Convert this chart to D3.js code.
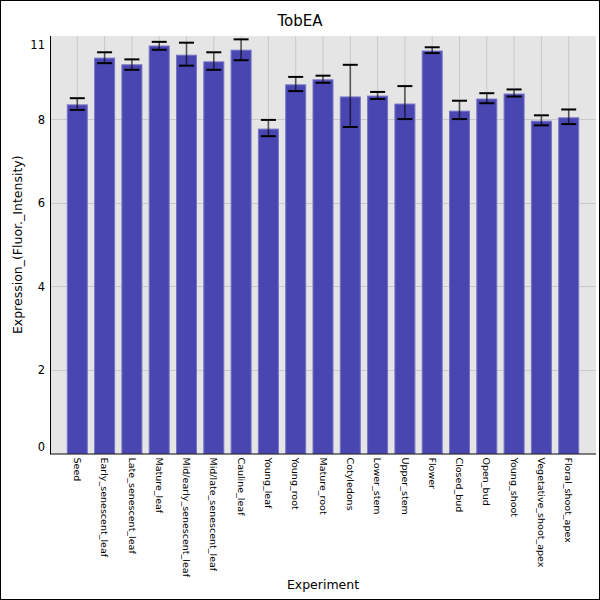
<!DOCTYPE html>
<html>
<head>
<meta charset="utf-8">
<script src="https://cdnjs.cloudflare.com/ajax/libs/d3/7.8.5/d3.min.js"></script>
<style>
  body { margin: 0; background: #fff; }
  svg { display: block; font-family: "DejaVu Sans", sans-serif; }
</style>
</head>
<body>
<svg id="chart" width="600" height="600"></svg>
<script>
'use strict'

// data
const experiments = ['Seed', 'Early_senescent_leaf', 'Late_senescent_leaf', 'Mature_leaf',
  'Mid/early_senescent_leaf', 'Mid/late_senescent_leaf', 'Cauline_leaf', 'Young_leaf',
  'Young_root', 'Mature_root', 'Cotyledons', 'Lower_stem', 'Upper_stem', 'Flower',
  'Closed_bud', 'Open_bud', 'Young_shoot', 'Vegetative_shoot_apex', 'Floral_shoot_apex']
const means = [8.35, 9.47, 9.31, 9.76, 9.54, 9.38, 9.66, 7.77, 8.83, 8.95,
  8.54, 8.56, 8.37, 9.64, 8.20, 8.49, 8.61, 7.96, 8.04]
const errLow = [8.23, 9.35, 9.19, 9.67, 9.29, 9.19, 9.42, 7.60, 8.68, 8.88,
  7.82, 8.49, 8.01, 9.59, 8.01, 8.39, 8.55, 7.86, 7.89]
const errHigh = [8.51, 9.61, 9.44, 9.86, 9.84, 9.61, 9.92, 7.99, 9.02, 9.05,
  9.31, 8.66, 8.80, 9.73, 8.45, 8.63, 8.72, 8.10, 8.24]
const yTicks = [0, 2, 4, 6, 8, 11]

const svg = d3.select('#chart')
const pLeft = 50, pRight = 596, pTop = 36, pBottom = 453.5

const x = d3.scaleLinear().domain([0, experiments.length + 1]).range([pLeft, pRight])
const y = d3.scaleLinear().domain([0, 10]).range([pBottom, pTop])

// outer frame
svg.append('rect')
  .attr('x', 0.5).attr('y', 0.5).attr('width', 599).attr('height', 599)
  .attr('fill', '#fff').attr('stroke', '#000')

svg.append('rect')
  .attr('x', pLeft).attr('y', pTop)
  .attr('width', pRight - pLeft).attr('height', pBottom - pTop)
  .attr('fill', '#e5e5e5')

// grid lines
svg.append('g')
  .selectAll('line')
  .data(yTicks.filter((t) => t > 0 && t < 10))
  .enter()
  .append('line')
  .attr('x1', pLeft).attr('x2', pRight)
  .attr('y1', (d) => Math.round(y(d)) + 0.5).attr('y2', (d) => Math.round(y(d)) + 0.5)
  .attr('stroke', '#c9c9c9')

svg.append('g')
  .selectAll('line')
  .data(experiments)
  .enter()
  .append('line')
  .attr('x1', (d, i) => x(i + 1)).attr('x2', (d, i) => x(i + 1))
  .attr('y1', pTop).attr('y2', pBottom)
  .attr('stroke', '#c9c9c9')

// bars
const barW = 20
svg.append('g')
  .selectAll('rect')
  .data(means)
  .enter()
  .append('rect')
  .attr('x', (d, i) => x(i + 1) - barW / 2)
  .attr('y', (d) => y(d))
  .attr('width', barW)
  .attr('height', (d) => pBottom - y(d))
  .attr('fill', '#4a46b1')
  .attr('stroke', '#7673c6')
  .attr('stroke-width', 1)

// error bars
const eb = svg.append('g')
eb.selectAll('line.stem')
  .data(means)
  .enter()
  .append('line')
  .attr('class', 'stem')
  .attr('x1', (d, i) => x(i + 1)).attr('x2', (d, i) => x(i + 1))
  .attr('y1', (d, i) => y(errLow[i])).attr('y2', (d, i) => y(errHigh[i]))
  .attr('stroke', '#000').attr('stroke-opacity', 0.6).attr('stroke-width', 1.6)

const capW = 15
;[errLow, errHigh].forEach((arr) => {
  eb.append('g')
    .selectAll('line')
    .data(arr)
    .enter()
    .append('line')
    .attr('x1', (d, i) => x(i + 1) - capW / 2).attr('x2', (d, i) => x(i + 1) + capW / 2)
    .attr('y1', (d) => y(d)).attr('y2', (d) => y(d))
    .attr('stroke', '#000').attr('stroke-width', 2)
})

// axis lines
svg.append('line')
  .attr('x1', pLeft + 0.5).attr('x2', pLeft + 0.5).attr('y1', pTop).attr('y2', pBottom + 0.5)
  .attr('stroke', '#000')
svg.append('line')
  .attr('x1', pLeft).attr('x2', pRight).attr('y1', pBottom + 0.5).attr('y2', pBottom + 0.5)
  .attr('stroke', '#000')

// y tick labels (clamped into the plot like the reference)
svg.append('g')
  .selectAll('text')
  .data(yTicks)
  .enter()
  .append('text')
  .attr('x', pLeft - 5)
  .attr('y', (d) => Math.min(Math.max(y(d), pTop + 9), pBottom - 6.5))
  .attr('dy', '0.35em')
  .attr('text-anchor', 'end')
  .style('font-size', '11.5px')
  .text((d) => d)

// x tick labels, rotated
svg.append('g')
  .selectAll('text')
  .data(experiments)
  .enter()
  .append('text')
  .attr('transform', (d, i) => `translate(${x(i + 1)},${pBottom + 4}) rotate(90)`)
  .attr('dy', '0.35em')
  .style('font-size', '9.5px')
  .text((d) => d)

// titles
svg.append('text')
  .attr('x', 300).attr('y', 26)
  .attr('text-anchor', 'middle')
  .style('font-size', '15px')
  .text('TobEA')

svg.append('text')
  .attr('x', (pLeft + pRight) / 2).attr('y', 589)
  .attr('text-anchor', 'middle')
  .style('font-size', '12.5px')
  .text('Experiment')

svg.append('text')
  .attr('transform', `translate(22,${(pTop + pBottom) / 2}) rotate(-90)`)
  .attr('text-anchor', 'middle')
  .style('font-size', '12.5px')
  .text('Expression_(Fluor._Intensity)')
</script>
</body>
</html>
